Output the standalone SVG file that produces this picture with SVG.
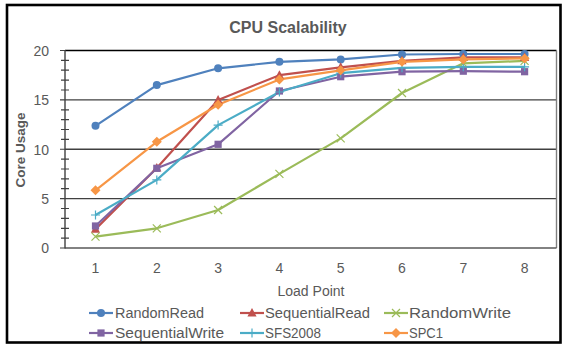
<svg xmlns="http://www.w3.org/2000/svg" width="562" height="346" viewBox="0 0 562 346">
<style>
.t{font-family:"Liberation Sans",Arial,sans-serif;fill:#595959}
.tick{font-size:14px}
.yl{text-anchor:end}
.xl{text-anchor:middle}
.leg{font-size:14px}
.grid{stroke:#404040;stroke-width:1.4}
.ser{fill:none;stroke-width:2.2;stroke-linejoin:round}
</style>
<defs>
<circle id="mRR" r="4" fill="#4F81BD"/>
<path id="mSR" d="M0,-5L4.6,3.5L-4.6,3.5Z" fill="#C0504D"/>
<path id="mRW" d="M-4,-4L4,4M-4,4L4,-4" stroke="#9BBB59" stroke-width="1.2" fill="none"/>
<rect id="mSW" x="-3.6" y="-3.6" width="7.2" height="7.2" fill="#8064A2"/>
<path id="mSFS" d="M-4.5,0H4.5M0,-4.5V4.5" stroke="#4BACC6" stroke-width="1.2" fill="none"/>
<path id="mSPC" d="M0,-5L5,0L0,5L-5,0Z" fill="#F79646"/>
</defs>
<rect x="0" y="0" width="562" height="346" fill="#fff"/>
<rect x="7" y="5" width="553.5" height="337.5" fill="none" stroke="#000" stroke-width="2.6"/>
<text class="t" x="288" y="33" text-anchor="middle" font-size="16" font-weight="bold">CPU Scalability</text>
<g id="plot-area">
<line class="grid" x1="65" y1="99.9" x2="556.5" y2="99.9"/>
<line class="grid" x1="65" y1="149.25" x2="556.5" y2="149.25"/>
<line class="grid" x1="65" y1="198.6" x2="556.5" y2="198.6"/>
<line x1="65" y1="50.5" x2="556.5" y2="50.5" stroke="#000" stroke-width="1.4"/>
<line x1="556.5" y1="50.5" x2="556.5" y2="248" stroke="#808080" stroke-width="1.4"/>
<line x1="65" y1="248" x2="556.5" y2="248" stroke="#595959" stroke-width="1.4"/>
<line x1="65" y1="50" x2="65" y2="248.5" stroke="#404040" stroke-width="1.4"/>
<path d="M60,50.5H65M60,99.9H65M60,149.25H65M60,198.6H65M60,248H65" stroke="#404040" stroke-width="1.2"/>
<path stroke="#404040" stroke-width="1.2" d="M61,60.4H69M61,70.2H69M61,80.1H69M61,90H69M61,109.8H69M61,119.6H69M61,129.5H69M61,139.4H69M61,159.1H69M61,169H69M61,178.9H69M61,188.7H69M61,208.5H69M61,218.4H69M61,228.3H69M61,238.1H69"/>
</g>
<g id="y-axis-labels" class="t tick yl">
<text x="49" y="56">20</text>
<text x="49" y="105">15</text>
<text x="49" y="155">10</text>
<text x="49" y="204">5</text>
<text x="49" y="253">0</text>
</g>
<g id="x-axis-labels" class="t tick xl">
<text x="95.5" y="273">1</text>
<text x="156.8" y="273">2</text>
<text x="218.1" y="273">3</text>
<text x="279.4" y="273">4</text>
<text x="340.7" y="273">5</text>
<text x="402" y="273">6</text>
<text x="463.3" y="273">7</text>
<text x="524.6" y="273">8</text>
</g>
<text class="t" x="311" y="296" text-anchor="middle" font-size="14">Load Point</text>
<text class="t" transform="translate(25,150) rotate(-90)" text-anchor="middle" font-size="13.5" font-weight="bold">Core Usage</text>
<g id="connectors">
<polyline id="RandomRead" class="ser" stroke="#4F81BD" points="95.5,125.8 156.8,85.1 218.1,68.3 279.4,61.8 340.7,59.4 402,54.5 463.3,54 524.6,54"/>
<polyline id="SequentialRead" class="ser" stroke="#C0504D" points="95.5,229.2 156.8,168 218.1,99.9 279.4,75.2 340.7,67.3 402,60.8 463.3,57.4 524.6,57.4"/>
<polyline id="RandomWrite" class="ser" stroke="#9BBB59" points="95.5,236.6 156.8,228.3 218.1,210 279.4,173.9 340.7,138.4 402,93 463.3,63.3 524.6,60.9"/>
<polyline id="SequentialWrite" class="ser" stroke="#8064A2" points="95.5,226 156.8,168.3 218.1,144.3 279.4,91 340.7,76.7 402,71.7 463.3,71.2 524.6,71.7"/>
<polyline id="SFS2008" class="ser" stroke="#4BACC6" points="95.5,215 156.8,179.9 218.1,125.1 279.4,92 340.7,73.2 402,67.8 463.3,66.8 524.6,66.8"/>
<polyline id="SPC1" class="ser" stroke="#F79646" points="95.5,190.3 156.8,141.8 218.1,104.8 279.4,79.4 340.7,70.3 402,61.8 463.3,59.4 524.6,58.4"/>
</g>
<g id="markers-RandomRead">
<use href="#mRR" x="95.5" y="125.8"/><use href="#mRR" x="156.8" y="85.1"/><use href="#mRR" x="218.1" y="68.3"/><use href="#mRR" x="279.4" y="61.8"/><use href="#mRR" x="340.7" y="59.4"/><use href="#mRR" x="402" y="54.5"/><use href="#mRR" x="463.3" y="54"/><use href="#mRR" x="524.6" y="54"/>
</g>
<g id="markers-SequentialRead">
<use href="#mSR" x="95.5" y="229.2"/><use href="#mSR" x="156.8" y="168"/><use href="#mSR" x="218.1" y="99.9"/><use href="#mSR" x="279.4" y="75.2"/><use href="#mSR" x="340.7" y="67.3"/><use href="#mSR" x="402" y="60.8"/><use href="#mSR" x="463.3" y="57.4"/><use href="#mSR" x="524.6" y="57.4"/>
</g>
<g id="markers-RandomWrite">
<use href="#mRW" x="95.5" y="236.6"/><use href="#mRW" x="156.8" y="228.3"/><use href="#mRW" x="218.1" y="210"/><use href="#mRW" x="279.4" y="173.9"/><use href="#mRW" x="340.7" y="138.4"/><use href="#mRW" x="402" y="93"/><use href="#mRW" x="463.3" y="63.3"/><use href="#mRW" x="524.6" y="60.9"/>
</g>
<g id="markers-SequentialWrite">
<use href="#mSW" x="95.5" y="226"/><use href="#mSW" x="156.8" y="168.3"/><use href="#mSW" x="218.1" y="144.3"/><use href="#mSW" x="279.4" y="91"/><use href="#mSW" x="340.7" y="76.7"/><use href="#mSW" x="402" y="71.7"/><use href="#mSW" x="463.3" y="71.2"/><use href="#mSW" x="524.6" y="71.7"/>
</g>
<g id="markers-SFS2008">
<use href="#mSFS" x="95.5" y="215"/><use href="#mSFS" x="156.8" y="179.9"/><use href="#mSFS" x="218.1" y="125.1"/><use href="#mSFS" x="279.4" y="92"/><use href="#mSFS" x="340.7" y="73.2"/><use href="#mSFS" x="402" y="67.8"/><use href="#mSFS" x="463.3" y="66.8"/><use href="#mSFS" x="524.6" y="66.8"/>
</g>
<g id="markers-SPC1">
<use href="#mSPC" x="95.5" y="190.3"/><use href="#mSPC" x="156.8" y="141.8"/><use href="#mSPC" x="218.1" y="104.8"/><use href="#mSPC" x="279.4" y="79.4"/><use href="#mSPC" x="340.7" y="70.3"/><use href="#mSPC" x="402" y="61.8"/><use href="#mSPC" x="463.3" y="59.4"/><use href="#mSPC" x="524.6" y="58.4"/>
</g>
<g id="legend">
<g id="leg-RandomRead"><line x1="89" y1="313" x2="113" y2="313" stroke="#4F81BD" stroke-width="2.2"/><use href="#mRR" x="101" y="313"/><text class="t leg" x="115" y="318" textLength="89" lengthAdjust="spacingAndGlyphs">RandomRead</text></g>
<g id="leg-SequentialRead"><line x1="240" y1="313" x2="264" y2="313" stroke="#C0504D" stroke-width="2.2"/><use href="#mSR" x="252" y="313"/><text class="t leg" x="265" y="318" textLength="105" lengthAdjust="spacingAndGlyphs">SequentialRead</text></g>
<g id="leg-RandomWrite"><line x1="384" y1="313" x2="408" y2="313" stroke="#9BBB59" stroke-width="2.2"/><use href="#mRW" x="396" y="313"/><text class="t leg" x="409" y="318" textLength="102" lengthAdjust="spacingAndGlyphs">RandomWrite</text></g>
<g id="leg-SequentialWrite"><line x1="89" y1="333" x2="113" y2="333" stroke="#8064A2" stroke-width="2.2"/><use href="#mSW" x="101" y="333"/><text class="t leg" x="115" y="338" textLength="109" lengthAdjust="spacingAndGlyphs">SequentialWrite</text></g>
<g id="leg-SFS2008"><line x1="240" y1="333" x2="264" y2="333" stroke="#4BACC6" stroke-width="2.2"/><use href="#mSFS" x="252" y="333"/><text class="t leg" x="265" y="338" textLength="56" lengthAdjust="spacingAndGlyphs">SFS2008</text></g>
<g id="leg-SPC1"><line x1="384" y1="333" x2="408" y2="333" stroke="#F79646" stroke-width="2.2"/><use href="#mSPC" x="396" y="333"/><text class="t leg" x="409" y="338" textLength="34" lengthAdjust="spacingAndGlyphs">SPC1</text></g>
</g>
</svg>
